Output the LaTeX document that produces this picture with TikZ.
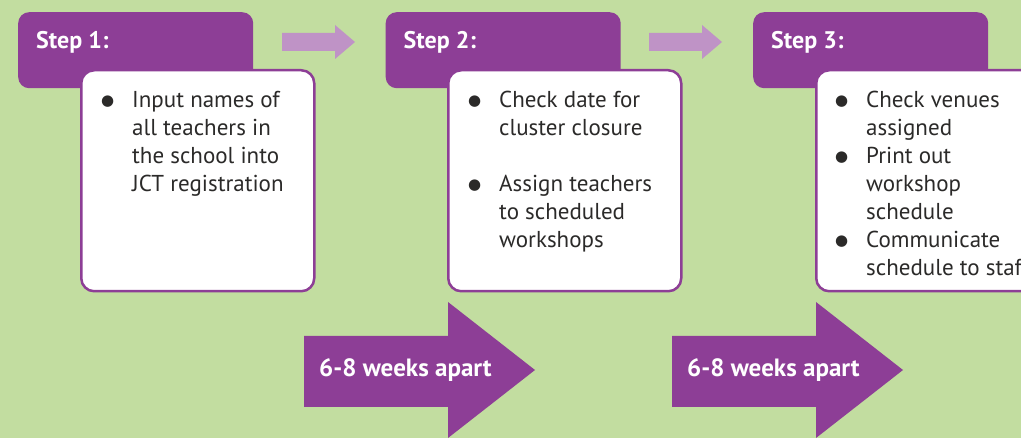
\documentclass[tikz,border=0pt]{standalone}
\usepackage{fontspec}
\usepackage{xcolor}
\setmainfont{PT Sans}
\newfontfamily\symfont{DejaVu Sans}

\definecolor{bggreen}{HTML}{C2DDA0}
\definecolor{jctpurple}{HTML}{8D3E96}
\definecolor{lightpurple}{HTML}{BF93C6}
\definecolor{textgrey}{HTML}{2B2A29}

\newcommand{\dotmark}{\raisebox{1.5pt}{\symfont\fontsize{15}{15}\selectfont ●}}

\begin{document}
\begin{tikzpicture}[x=1pt,y=-1pt,
  stepbox/.style={fill=jctpurple, rounded corners=11pt, minimum width=235pt, minimum height=76pt, anchor=north west, inner sep=0pt},
  steptitle/.style={text=white, font=\fontsize{24}{27}\selectfont\bfseries, anchor=base west, inner sep=0pt},
  detailbox/.style={draw=jctpurple, line width=2.5pt, fill=white, rounded corners=13pt, minimum width=233pt, minimum height=221pt, anchor=north west, inner sep=0pt},
  detailtext/.style={align=left, font=\fontsize{23}{28}\selectfont, text=textgrey, anchor=north west, inner sep=0pt},
  hintarrow/.style={fill=lightpurple},
  gaparrow/.style={fill=jctpurple},
  gaplabel/.style={text=white, font=\fontsize{25}{28}\selectfont\bfseries, anchor=base west, inner sep=0pt}]

\useasboundingbox (0,0) rectangle (1021,438);
\fill[bggreen] (0,0) rectangle (1021,438);
\clip (0,0) rectangle (1021,438);

% step headers
\foreach \i/\x in {1/0,2/367.5,3/735} {
  \node[stepbox] (step\i) at (18+\x,12) {};
  \node[steptitle] (title\i) at (36+\x,49) {Step \i:};
}

% small arrows between the steps
\foreach \x in {0,367} {
  \fill[hintarrow] (282+\x,33) -- (335+\x,33) -- (335+\x,25) -- (355+\x,42)
    -- (335+\x,59) -- (335+\x,51) -- (282+\x,51) -- cycle;
}

% task boxes
\node[detailbox] (box1) at (80,69) {};
\node[detailtext] (list1) at (101,87.4) {%
  \begin{tabular}{@{}p{31pt}@{}l@{}}
    \dotmark & Input names of\\
             & all teachers in\\
             & the school into\\
             & JCT registration
  \end{tabular}};

\node[detailbox] (box2) at (447,69) {};
\node[detailtext] (list2) at (468,87.4) {%
  \begin{tabular}{@{}p{31pt}@{}l@{}}
    \dotmark & Check date for\\
             & cluster closure\\
             & \\
    \dotmark & Assign teachers\\
             & to scheduled\\
             & workshops
  \end{tabular}};

\node[detailbox] (box3) at (815,69) {};
\node[detailtext] (list3) at (835,87.4) {%
  \begin{tabular}{@{}p{31pt}@{}l@{}}
    \dotmark & Check venues\\
             & assigned\\
    \dotmark & Print out\\
             & workshop\\
             & schedule\\
    \dotmark & Communicate\\
             & schedule to staff
  \end{tabular}};

% time gaps
\foreach \i/\x in {1/0,2/368} {
  \fill[gaparrow] (304+\x,336) -- (448+\x,336) -- (448+\x,302) -- (535+\x,370)
    -- (448+\x,438) -- (448+\x,407) -- (304+\x,407) -- cycle;
  \node[gaplabel] (gap\i) at (319+\x,377) {6-8 weeks apart};
}
\end{tikzpicture}
\end{document}
